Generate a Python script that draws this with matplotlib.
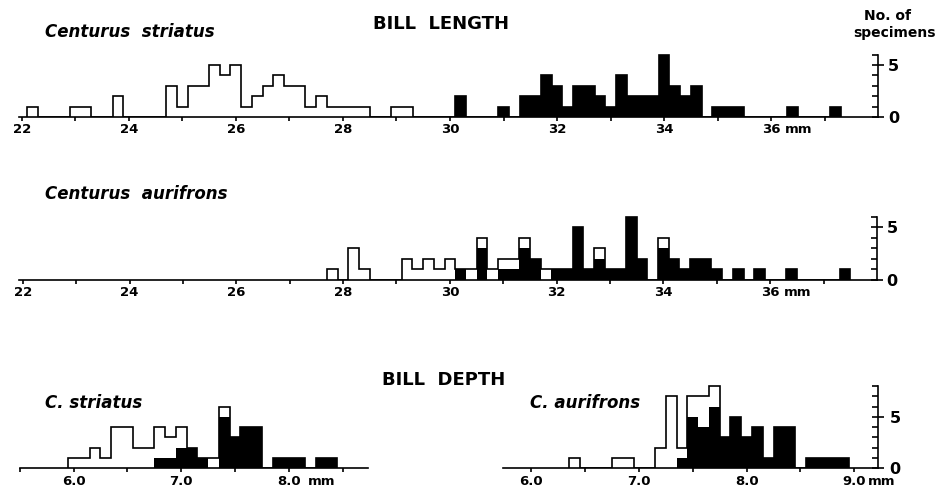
import matplotlib.pyplot as plt
import numpy as np

# Bill length, 0.2 mm classes (class midpoints, mm) - open = females, black = males
len_str_fem_mm = [22.2, 23.0, 23.2, 23.8, 24.8, 25.0, 25.2, 25.4, 25.6, 25.8, 26.0,
                  26.2, 26.4, 26.6, 26.8, 27.0, 27.2, 27.4, 27.6, 27.8, 28.0, 28.2,
                  28.4, 29.0, 29.2]
len_str_fem_n = [1, 1, 1, 2, 3, 1, 3, 3, 5, 4, 5, 1, 2, 3, 4, 3, 3, 1, 2, 1, 1, 1, 1, 1, 1]
len_str_male_mm = [30.2, 31.0, 31.4, 31.6, 31.8, 32.0, 32.2, 32.4, 32.6, 32.8, 33.0,
                   33.2, 33.4, 33.6, 33.8, 34.0, 34.2, 34.4, 34.6, 35.0, 35.2, 35.4,
                   36.4, 37.2]
len_str_male_n = [2, 1, 2, 2, 4, 3, 1, 3, 3, 2, 1, 4, 2, 2, 2, 6, 3, 2, 3, 1, 1, 1, 1, 1]

len_aur_fem_mm = [27.8, 28.2, 28.4, 29.2, 29.4, 29.6, 29.8, 30.0, 30.4, 30.6, 30.8,
                  31.0, 31.2, 31.4, 31.8, 32.8, 34.0]
len_aur_fem_n = [1, 3, 1, 2, 1, 2, 1, 2, 1, 1, 1, 1, 1, 1, 1, 1, 1]
len_aur_male_mm = [30.2, 30.6, 31.0, 31.2, 31.4, 31.6, 32.0, 32.2, 32.4, 32.6, 32.8,
                   33.0, 33.2, 33.4, 33.6, 34.0, 34.2, 34.4, 34.6, 34.8, 35.0, 35.4,
                   35.8, 36.4, 37.4]
len_aur_male_n = [1, 3, 1, 1, 3, 2, 1, 1, 5, 1, 2, 1, 1, 6, 2, 3, 2, 1, 2, 2, 1, 1, 1, 1, 1]

# Bill depth, 0.1 mm classes
dep_str_fem_mm = [6.0, 6.1, 6.2, 6.3, 6.4, 6.5, 6.6, 6.7, 6.8, 6.9, 7.0, 7.3, 7.4]
dep_str_fem_n = [1, 1, 2, 1, 4, 4, 2, 2, 3, 2, 2, 1, 1]
dep_str_male_mm = [6.8, 6.9, 7.0, 7.1, 7.2, 7.4, 7.5, 7.6, 7.7, 7.9, 8.0, 8.1, 8.3, 8.4]
dep_str_male_n = [1, 1, 2, 2, 1, 5, 3, 4, 4, 1, 1, 1, 1, 1]

dep_aur_fem_mm = [6.4, 6.8, 6.9, 7.2, 7.3, 7.4, 7.5, 7.6, 7.7]
dep_aur_fem_n = [1, 1, 1, 2, 7, 1, 2, 3, 2]
dep_aur_male_mm = [7.4, 7.5, 7.6, 7.7, 7.8, 7.9, 8.0, 8.1, 8.2, 8.3, 8.4, 8.6, 8.7, 8.8, 8.9]
dep_aur_male_n = [1, 5, 4, 6, 3, 5, 3, 4, 1, 4, 4, 1, 1, 1, 1]

W, H = 947, 493
LW = 1.2


def fx(px):
    return px / W


def fy(py):
    return 1 - py / H


def draw_hist(ax, width, fem_mm, fem_n, male_mm, male_n):
    lo = min(fem_mm + male_mm) - width / 2
    hi = max(fem_mm + male_mm) + width / 2
    nb = int(round((hi - lo) / width))
    edges = lo + width * np.arange(nb + 1)
    fem = np.zeros(nb)
    male = np.zeros(nb)
    for m, n in zip(fem_mm, fem_n):
        fem[int(round((m - lo) / width - 0.5))] += n
    for m, n in zip(male_mm, male_n):
        male[int(round((m - lo) / width - 0.5))] += n
    ax.stairs(male, edges, fill=True, color='black', lw=0)
    ax.stairs(fem + male, edges, color='black', lw=LW)


def style(ax, xlim, ytop, major, labels, minor, mm_off, yaxis_top=None, ypad=3):
    ax.set_xlim(*xlim)
    ax.set_ylim(0, ytop)
    ax.patch.set_visible(False)
    for s in ['top', 'left']:
        ax.spines[s].set_visible(False)
    ax.spines['bottom'].set_linewidth(LW)
    ax.set_xticks(major)
    ax.set_xticklabels(labels, fontweight='bold')
    ax.set_xticks(minor, minor=True)
    ax.tick_params(axis='x', which='both', direction='out', length=3, width=LW,
                   pad=1.5, labelsize=9.5)
    ax.annotate('mm', xy=(major[-1], 0), xycoords=('data', 'axes fraction'),
                xytext=(mm_off, -4.5), textcoords='offset points',
                ha='left', va='top', fontsize=9.5, fontweight='bold')
    if yaxis_top is None:
        ax.spines['right'].set_visible(False)
        ax.set_yticks([])
        return
    ax.spines['right'].set_linewidth(LW)
    ax.spines['right'].set_bounds(0, yaxis_top)
    ax.yaxis.tick_right()
    ax.set_yticks([0, 5])
    ax.set_yticklabels(['0', '5'], fontweight='bold')
    ax.set_yticks([t for t in range(yaxis_top + 1) if t not in (0, 5)], minor=True)
    ax.tick_params(axis='y', which='major', direction='inout', length=8, width=LW,
                   pad=ypad, labelsize=11.5)
    ax.tick_params(axis='y', which='minor', direction='in', length=4, width=LW)


fig = plt.figure(figsize=(W / 100, H / 100), dpi=100)

len_major = [22, 24, 26, 28, 30, 32, 34, 36]
len_labels = ['22', '24', '26', '28', '30', '32', '34', '36']
len_minor = [23, 25, 27, 29, 31, 33, 35, 37]

# Centurus striatus, bill length
ax1 = fig.add_axes([fx(19), fy(117), fx(878.3 - 19), (117 - 52.5) / H])
draw_hist(ax1, 0.2, len_str_fem_mm, len_str_fem_n, len_str_male_mm, len_str_male_n)
style(ax1, (21.95, 38.0), 6.2, len_major, len_labels, len_minor, 10, yaxis_top=6)

# Centurus aurifrons, bill length
ax2 = fig.add_axes([fx(19), fy(279.5), fx(877 - 19), 65 / H])
draw_hist(ax2, 0.2, len_aur_fem_mm, len_aur_fem_n, len_aur_male_mm, len_aur_male_n)
style(ax2, (21.93, 38.0), 6.2, len_major, len_labels, len_minor, 10, yaxis_top=6)

# C. striatus, bill depth
ax3 = fig.add_axes([fx(19.7), fy(468.3), fx(368.4 - 19.7), 83.4 / H])
draw_hist(ax3, 0.1, dep_str_fem_mm, dep_str_fem_n, dep_str_male_mm, dep_str_male_n)
style(ax3, (5.52, 8.74), 8.1, [6, 7, 8], ['6.0', '7.0', '8.0'], [5.5, 6.5, 7.5, 8.5], 14)

# C. aurifrons, bill depth
ax4 = fig.add_axes([fx(503.4), fy(468.3), fx(877.9 - 503.4), 83.4 / H])
draw_hist(ax4, 0.1, dep_aur_fem_mm, dep_aur_fem_n, dep_aur_male_mm, dep_aur_male_n)
style(ax4, (5.74, 9.22), 8.1, [6, 7, 8, 9], ['6.0', '7.0', '8.0', '9.0'], [6.5, 7.5, 8.5], 9.5,
      yaxis_top=8, ypad=4.5)

# titles and labels
fig.text(fx(441), fy(24), 'BILL  LENGTH', ha='center', va='center', fontsize=13, fontweight='bold')
fig.text(fx(444), fy(380), 'BILL  DEPTH', ha='center', va='center', fontsize=13, fontweight='bold')
fig.text(fx(887), fy(16), 'No. of', ha='center', va='center', fontsize=10, fontweight='bold')
fig.text(fx(894), fy(33), 'specimens', ha='center', va='center', fontsize=10, fontweight='bold')

sp = dict(fontsize=12, fontweight='bold', fontstyle='italic', va='baseline', ha='left')
fig.text(fx(45), fy(37), 'Centurus  striatus', **sp)
fig.text(fx(45), fy(199), 'Centurus  aurifrons', **sp)
fig.text(fx(45), fy(408), 'C. striatus', **sp)
fig.text(fx(530), fy(408), 'C. aurifrons', **sp)

fig.savefig('out.png', dpi=100)
